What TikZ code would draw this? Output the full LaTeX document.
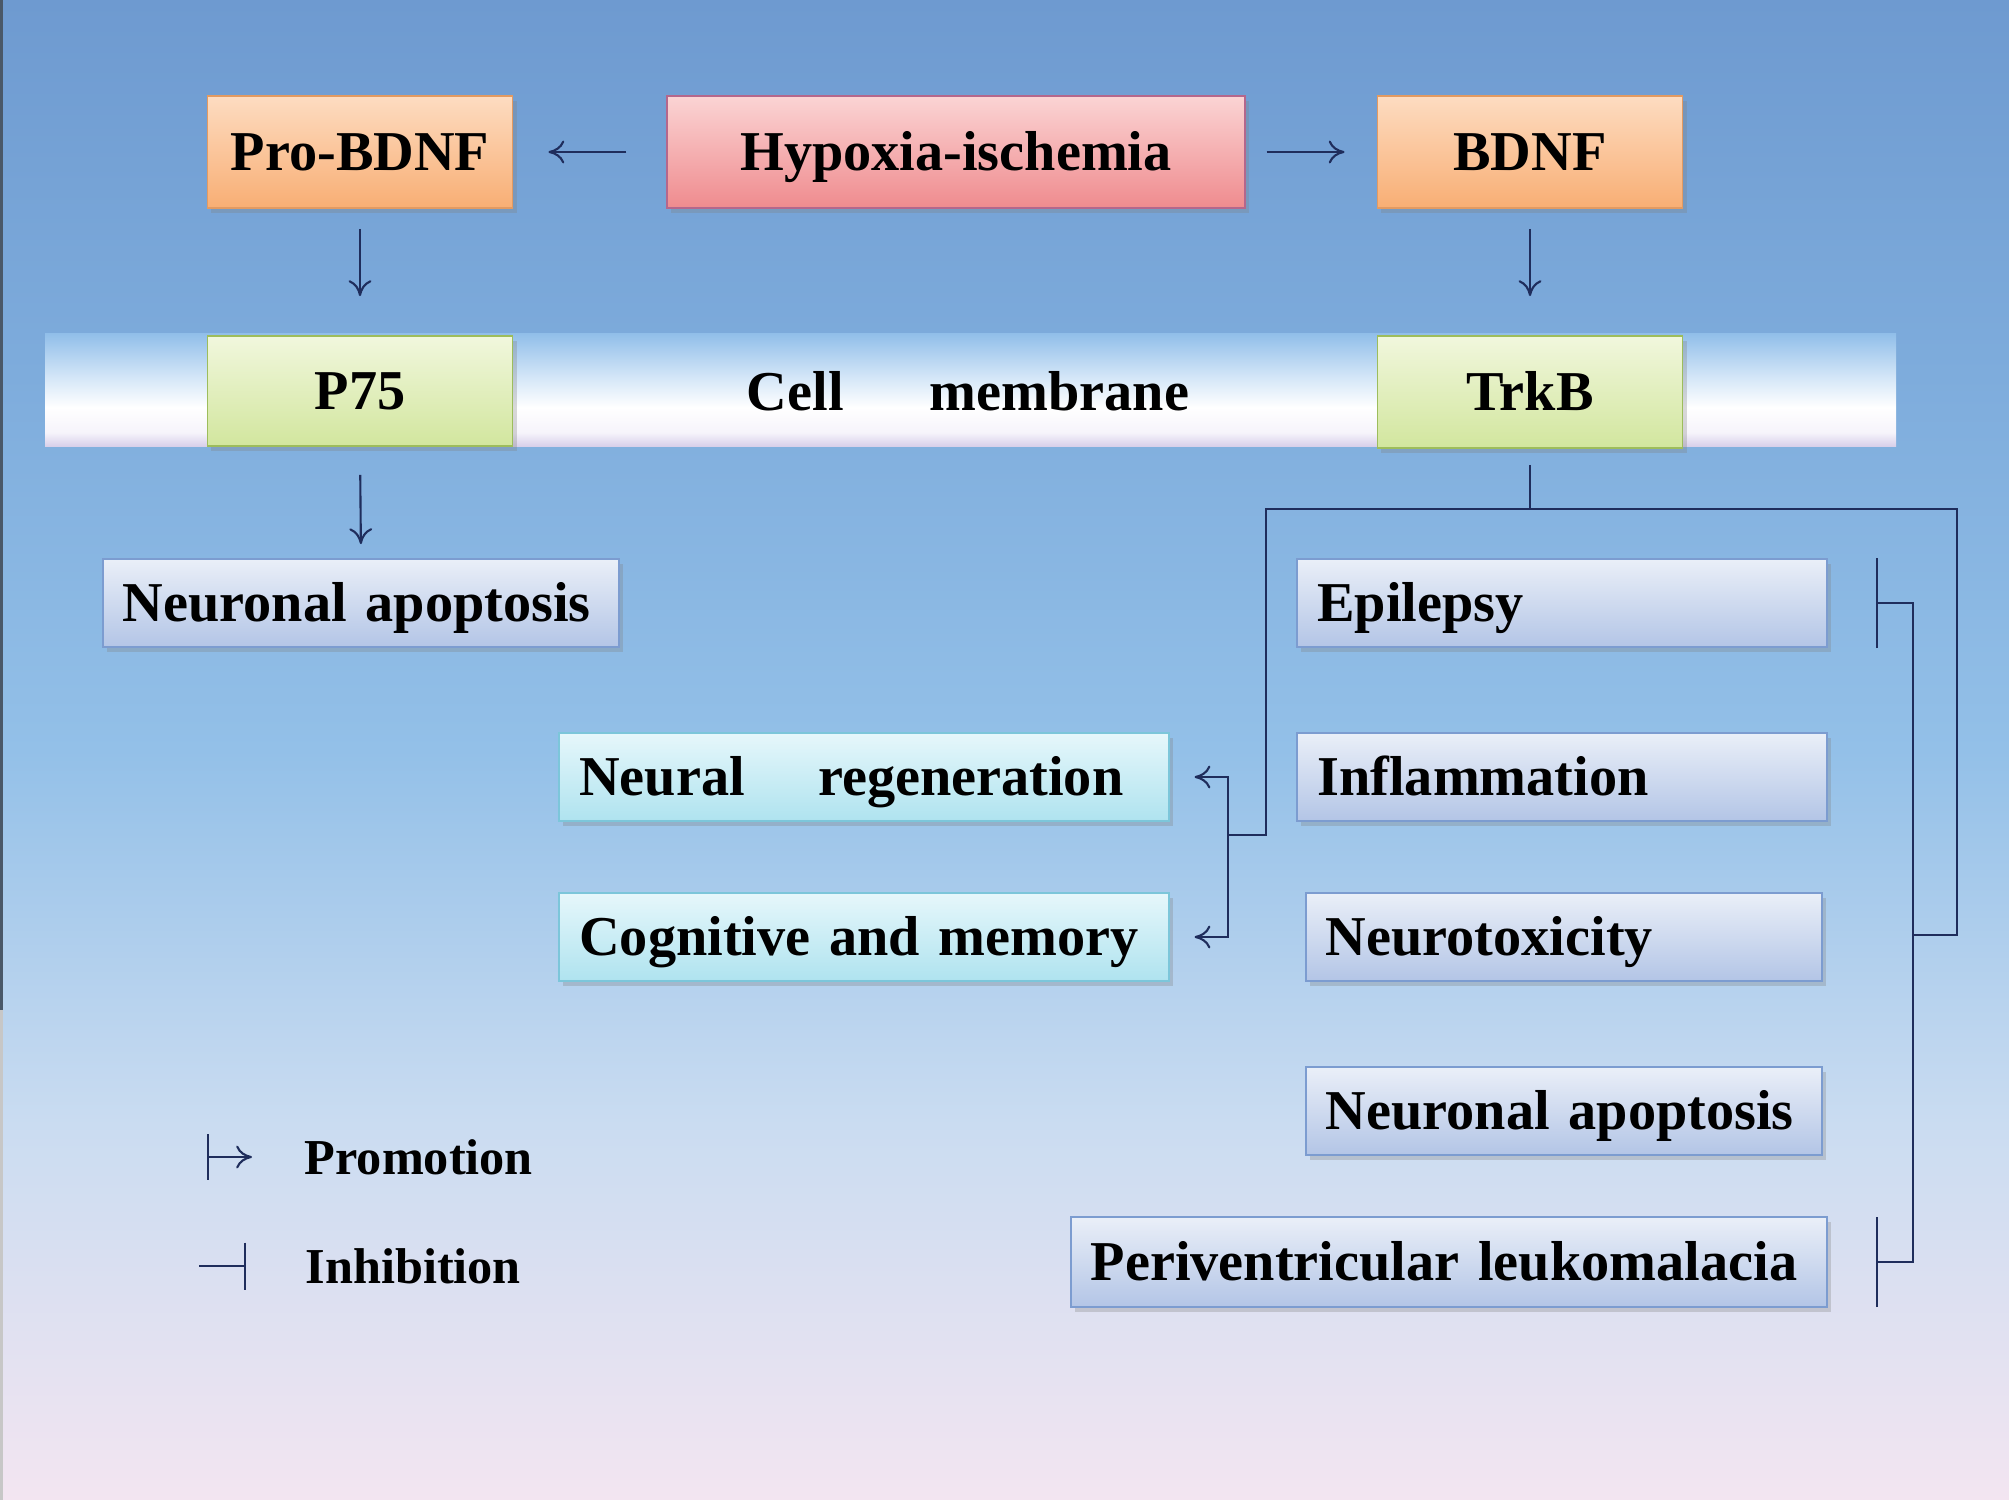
\documentclass[tikz,border=0pt]{standalone}
\usepackage{fontspec}
\setmainfont{Liberation Serif}
\usepackage{xcolor}
\usepackage{tikz}
\usetikzlibrary{arrows.meta, shadows}

\definecolor{linecol}{HTML}{1F2D5C}
\definecolor{edgecol}{HTML}{4A5868}
\definecolor{bgA}{HTML}{F3E5F1}
\definecolor{bgB}{HTML}{CADCF1}
\definecolor{bgC}{HTML}{93C0E8}
\definecolor{bgD}{HTML}{7EACDC}
\definecolor{bgE}{HTML}{6E9AD0}
\definecolor{mbA}{HTML}{D9D0EA}
\definecolor{mbB}{HTML}{F6F4FB}
\definecolor{mbC}{HTML}{FFFFFF}
\definecolor{mbD}{HTML}{D2E5F7}
\definecolor{mbE}{HTML}{90BEE9}
\definecolor{orangetop}{HTML}{FDDCC1}
\definecolor{orangebot}{HTML}{F8AE74}
\definecolor{orangeline}{HTML}{E29A62}
\definecolor{pinktop}{HTML}{FBD4D4}
\definecolor{pinkbot}{HTML}{EF8B8E}
\definecolor{pinkline}{HTML}{B4678C}
\definecolor{greentop}{HTML}{F1F7DD}
\definecolor{greenbot}{HTML}{D2E69E}
\definecolor{greenline}{HTML}{9DBD5C}
\definecolor{lavtop}{HTML}{EAEFF8}
\definecolor{lavbot}{HTML}{B3C5E6}
\definecolor{lavline}{HTML}{7C9CD0}
\definecolor{cyantop}{HTML}{E6F7FB}
\definecolor{cyanbot}{HTML}{AFE3EF}
\definecolor{cyanline}{HTML}{7CC6DA}

\pgfdeclareverticalshading{bgshade}{100bp}{color(0bp)=(bgA); color(25bp)=(bgA); color(37.5bp)=(bgB); color(50bp)=(bgC); color(62.5bp)=(bgD); color(75bp)=(bgE); color(100bp)=(bgE)}
\pgfdeclareverticalshading{membshade}{100bp}{color(0bp)=(mbA); color(25bp)=(mbA); color(31bp)=(mbB); color(42bp)=(mbC); color(56bp)=(mbD); color(75bp)=(mbE); color(100bp)=(mbE)}

\begin{document}
\begin{tikzpicture}[x=0.01cm, y=-0.01cm,
    box/.style={rectangle, draw=#1line, line width=0.5pt, top color=#1top, bottom color=#1bot,
        drop shadow={opacity=0.3, shadow xshift=0.04cm, shadow yshift=-0.05cm},
        font=\fontsize{16}{19}\selectfont\bfseries, text height=0.37cm, text depth=0cm, inner sep=0pt},
    outbox/.style={box=#1, align=left, inner xsep=0.2cm},
    link/.style={draw=linecol, line width=0.6pt},
    promote/.style={link, -{To[length=4.5pt, width=6.5pt]}},
    inhibit/.style={link, -{Bar[width=0.9cm]}},
    legend/.style={font=\fontsize{14.3}{17}\selectfont\bfseries, anchor=west, inner sep=0pt}]

        \shade[shading=bgshade] (0, 0) rectangle (2009, 1500);
        \useasboundingbox (0, 0) rectangle (2009, 1500);
        \fill[edgecol] (0, 0) rectangle (3, 1010);
        \fill[black!22] (0, 1010) rectangle (3, 1500);

        \shade[shading=membshade] (45, 333) rectangle (1896, 446);
        \node[font=\fontsize{16}{19}\selectfont\bfseries] (memb) at (968, 391) {Cell\hspace{0.86cm}membrane};

        \node[box=orange, minimum width=3.05cm, minimum height=1.12cm] (pro) at (360, 152) {Pro-BDNF};
        \node[box=pink, minimum width=5.77cm, minimum height=1.12cm] (hyp) at (956, 152) {Hypoxia-ischemia};
        \node[box=orange, minimum width=3.05cm, minimum height=1.12cm] (bdnf) at (1530, 152) {BDNF};
        \node[box=green, minimum width=3.05cm, minimum height=1.10cm] (p75) at (360, 391) {P75};
        \node[box=green, minimum width=3.05cm, minimum height=1.12cm] (trkb) at (1530, 392) {TrkB};

        \node[outbox=lav, text width=4.76cm, minimum height=0.88cm] (apoL) at (361, 603) {Neuronal apoptosis};
        \node[outbox=cyan, text width=5.69cm, minimum height=0.88cm] (neuroreg) at (864, 777) {Neural\hspace{0.73cm}regeneration};
        \node[outbox=cyan, text width=5.69cm, minimum height=0.88cm] (cogn) at (864, 937) {Cognitive and memory};

        \foreach \nm/\x/\y/\w/\txt in {epil/1562/603/4.89/Epilepsy, infl/1562/777/4.89/Inflammation,
                ntox/1564/937/4.76/Neurotoxicity, apoR/1564/1111/4.76/Neuronal apoptosis} {
            \node[outbox=lav, text width=\w cm, minimum height=0.88cm] (\nm) at (\x, \y) {\txt};
        }
        \node[outbox=lav, text width=7.16cm, minimum height=0.90cm] (periv) at (1449, 1262) {Periventricular leukomalacia};

        \draw[promote, shorten <=0.4cm, shorten >=0.35cm] (hyp.west) -- (pro.east);
        \draw[promote, shorten <=0.21cm, shorten >=0.32cm] (hyp.east) -- (bdnf.west);
        \draw[promote, shorten <=0.2cm, shorten >=0.39cm] (pro.south) -- (p75.north);
        \draw[promote, shorten <=0.2cm, shorten >=0.39cm] (bdnf.south) -- (trkb.north);
        \draw[promote, shorten <=0.28cm, shorten >=0.14cm] (p75.south) -- (apoL.north);

        \coordinate (tj) at (1530, 509);
        \coordinate (lj) at (1228, 835);
        \coordinate (rj) at (1913, 935);
        \draw[link, shorten <=0.16cm] (trkb.south) -- (tj);
        \draw[link] (tj) -| (1266, 835) -- (lj);
        \draw[link] (tj) -| (1957, 935) -- (rj);
        \draw[promote, shorten >=0.25cm] (lj) |- (neuroreg.east);
        \draw[promote, shorten >=0.25cm] (lj) |- (cogn.east);
        \draw[inhibit, shorten >=0.48cm] (rj) |- (epil.east);
        \draw[inhibit, shorten >=0.48cm] (rj) |- (periv.east);

        \coordinate (pa) at (207, 1157);
        \coordinate (pb) at (252, 1157);
        \coordinate (ia) at (199, 1266);
        \coordinate (ib) at (246, 1266);
        \draw[link, {Bar[width=0.45cm]}-{To[length=4.5pt, width=6.5pt]}] (pa) -- (pb);
        \draw[inhibit, -{Bar[width=0.47cm]}] (ia) -- (ib);
        \node[legend] (prom) at (304, 1157) {Promotion};
        \node[legend] (inhib) at (305, 1266) {Inhibition};
\end{tikzpicture}
\end{document}
